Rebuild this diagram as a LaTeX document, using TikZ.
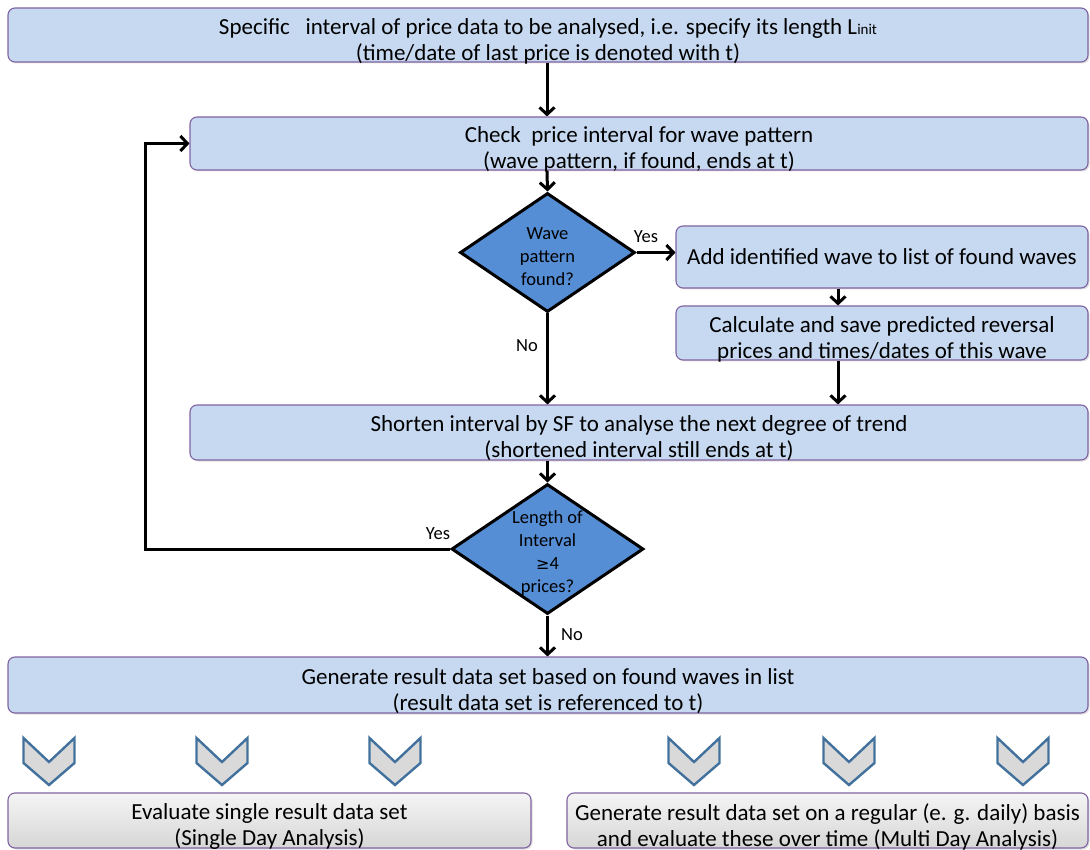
\documentclass[tikz,border=0pt]{standalone}
\usepackage{fontspec}
\setmainfont{Carlito}
\usetikzlibrary{shapes.geometric,arrows.meta,shadows}
\definecolor{boxfill}{HTML}{C6D9F1}
\definecolor{boxline}{HTML}{8064A2}
\definecolor{dfill}{HTML}{558ED5}
\definecolor{chevline}{HTML}{41719C}
\definecolor{chevfill}{HTML}{D9D9D9}
\begin{document}
\begin{tikzpicture}[x=1pt,y=-1pt,
  box/.style={rectangle, rounded corners=7pt, draw=boxline, line width=1.1pt, fill=boxfill,
    inner sep=0pt,
    drop shadow={shadow xshift=1.5pt, shadow yshift=-1.5pt, opacity=0.25}},
  btext/.style={align=center, inner sep=0pt, font=\fontsize{23}{26}\selectfont, yshift=-6pt},
  graybox/.style={box, fill=none, top color=gray!8, bottom color=gray!32},
  dec/.style={diamond, draw=black, line width=3pt, fill=dfill, inner sep=0pt},
  dtext/.style={align=center, font=\fontsize{18.5}{23}\selectfont, inner sep=0pt},
  lbl/.style={font=\fontsize{18.5}{20}\selectfont, inner sep=0pt},
  arr/.style={draw=black, line width=3pt, -{Straight Barb[length=7pt,width=15pt,line width=3pt]}},
  chev/.style={draw=chevline, line width=2.4pt, fill=chevfill, line join=miter}
]
\useasboundingbox (0,0) rectangle (1090,850);

\node[box, minimum width=1080, minimum height=54,
  label={[btext]center:{Specific\ \ \ interval of price data to be analysed, i.e. specify its length L{\fontsize{15}{15}\selectfont init}\\(time/date of last price is denoted with t)}}] (top) at (548,35) {};
\node[box, minimum width=898, minimum height=53,
  label={[btext]center:{Check\ \ price interval for wave pattern\\(wave pattern, if found, ends at t)}}] (check) at (639,143.5) {};
\node[dec, minimum width=175, minimum height=119] (d1) at (547.5,252.5) {};
\node[dtext] (d1t) at (547.5,257) {Wave\\pattern\\found?};
\node[box, minimum width=412, minimum height=62,
  label={[btext,yshift=6pt]center:{Add identified wave to list of found waves}}] (add) at (882,257) {};
\node[box, minimum width=412, minimum height=54,
  label={[btext]center:{Calculate and save predicted reversal\\prices and times/dates of this wave}}] (calc) at (882,333) {};
\node[box, minimum width=898, minimum height=55,
  label={[btext]center:{Shorten interval by SF to analyse the next degree of trend\\(shortened interval still ends at t)}}] (short) at (639,432.5) {};
\node[dec, minimum width=192, minimum height=130] (d2) at (547.5,549) {};
\node[dtext] (d2t) at (547.5,553) {Length of\\Interval\\{\fontspec{DejaVu Sans}\fontsize{16}{16}\selectfont ≥}4\\prices?};
\node[box, minimum width=1080, minimum height=56,
  label={[btext]center:{Generate result data set based on found waves in list\\(result data set is referenced to t)}}] (gen) at (548,685) {};
\node[graybox, minimum width=523, minimum height=55,
  label={[btext]center:{Evaluate single result data set\\(Single Day Analysis)}}] (eval) at (269.5,820.5) {};
\node[graybox, minimum width=521, minimum height=55,
  label={[btext]center:{Generate result data set on a regular (e. g. daily) basis\\and evaluate these over time (Multi Day Analysis)}}] (multi) at (827.5,820.5) {};

\coordinate (loopc) at (145,549);
\coordinate (loopt) at (145,143.5);

\draw[arr] (top.south -| 547,0) -- (check.north -| 547,0);
\draw[arr] (check.south -| 547,0) -- (d1.north);
\draw[arr] (d1.east) -- (d1.east -| add.west);
\draw[arr] (add.south -| 838,0) -- (calc.north -| 838,0);
\draw[arr] (calc.south -| 838,0) -- (short.north -| 838,0);
\draw[arr] (d1.south) -- (short.north -| 547.5,0);
\draw[arr] (short.south -| 547.5,0) -- (d2.north);
\draw[arr] (d2.west) -- (loopc) -- (loopt) -- (check.west);
\draw[arr] (d2.south) -- (gen.north -| 547.5,0);

\node[lbl] (yes1) at (646,237) {Yes};
\node[lbl] (no1) at (527,346) {No};
\node[lbl] (yes2) at (438,534) {Yes};
\node[lbl] (no2) at (572,635) {No};

\foreach \cx in {49,222,395,694,849,1023} {
  \draw[chev] (\cx-25.5,738) -- (\cx,762) -- (\cx+25.5,738) -- (\cx+25.5,763) -- (\cx,785) -- (\cx-25.5,763) -- cycle;
}
\end{tikzpicture}
\end{document}
